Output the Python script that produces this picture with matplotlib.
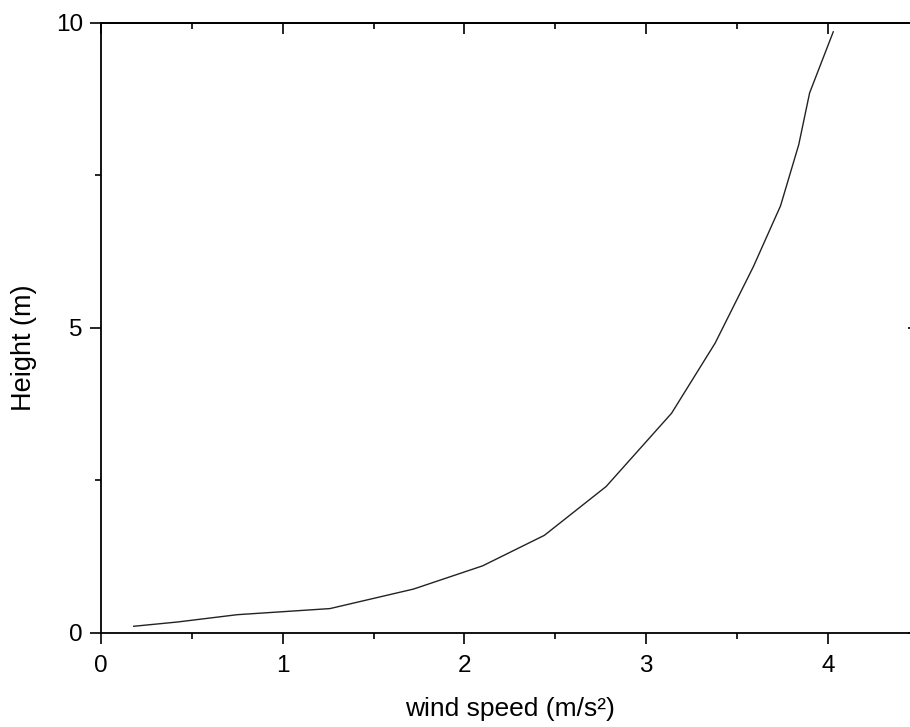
import matplotlib
matplotlib.use("Agg")
import matplotlib.pyplot as plt
from matplotlib.ticker import MultipleLocator

plt.rcParams["font.family"] = ["Liberation Sans", "DejaVu Sans"]

# wind profile: speed vs height above ground
wind_speed = [0.18, 0.42, 0.75, 1.26, 1.72, 2.10, 2.44, 2.78, 3.14, 3.38, 3.59, 3.74, 3.84, 3.90, 4.03]
height = [0.11, 0.18, 0.30, 0.40, 0.72, 1.10, 1.60, 2.40, 3.60, 4.75, 6.00, 7.00, 8.00, 8.85, 9.85]

x_ticks = [0, 1, 2, 3, 4]
y_ticks = [0, 5, 10]

fig = plt.figure(figsize=(9.1, 7.27), dpi=100)
# right edge of the frame runs just past the canvas
ax = fig.add_axes([0.111, 0.1293, 0.8985, 0.8395])

ax.plot(wind_speed, height, color="#222222", linewidth=1.0)

ax.set_xlim(0, 4.5)
ax.set_ylim(0, 10)
ax.set_xticks(x_ticks)
ax.set_yticks(y_ticks)
ax.xaxis.set_minor_locator(MultipleLocator(0.5))
ax.yaxis.set_minor_locator(MultipleLocator(2.5))

for s in ax.spines.values():
    s.set_linewidth(1.3)

ax.tick_params(which="major", direction="out", length=8, width=1.2, labelsize=17.5, pad=5)
ax.tick_params(which="minor", direction="out", length=4, width=1.2)
ax.tick_params(axis="x", which="major", pad=8)

# inward ticks on the opposite sides
top = ax.secondary_xaxis("top")
top.set_xticks(x_ticks)
top.xaxis.set_minor_locator(MultipleLocator(0.5))
top.tick_params(which="major", direction="in", length=8, width=1.2, labeltop=False)
top.tick_params(which="minor", direction="in", length=4.5, width=1.2)
right = ax.secondary_yaxis("right")
right.set_yticks(y_ticks)
right.yaxis.set_minor_locator(MultipleLocator(2.5))
right.tick_params(which="major", direction="in", length=8, width=1.2, labelright=False)
right.tick_params(which="minor", direction="in", length=4.5, width=1.2)
for sec in (top, right):
    for s in sec.spines.values():
        s.set_linewidth(1.3)

ax.set_xlabel("wind speed (m/s²)", fontsize=19)
ax.set_ylabel("Height (m)", fontsize=19.5)
ax.xaxis.set_label_coords(0.5, -0.1049)
ax.yaxis.set_label_coords(-0.078, 0.468)

fig.savefig("out.png", dpi=100)
